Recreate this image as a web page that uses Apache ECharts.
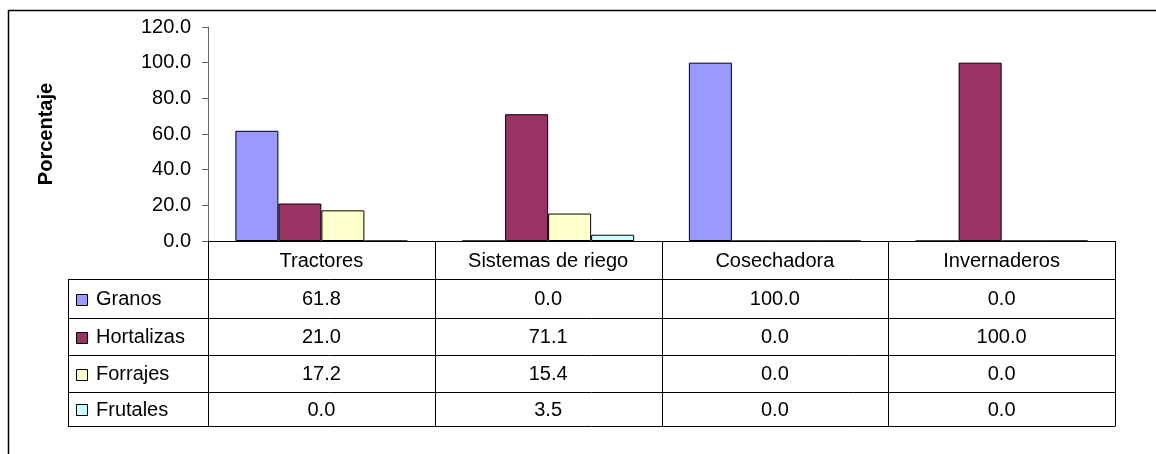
<!DOCTYPE html>
<html>
<head>
<meta charset="utf-8">
<script src="https://cdn.jsdelivr.net/npm/echarts@6/dist/echarts.min.js"></script>
<style>
  html, body { margin: 0; padding: 0; background: #fff; }
  #chart { width: 1156px; height: 454px; }
</style>
</head>
<body>
<div id="chart"></div>
<script>
var categories = ['Tractores', 'Sistemas de riego', 'Cosechadora', 'Invernaderos'];
var seriesNames = ['Granos', 'Hortalizas', 'Forrajes', 'Frutales'];
var granos = [61.8, 0.0, 100.0, 0.0];
var hortalizas = [21.0, 71.1, 0.0, 100.0];
var forrajes = [17.2, 15.4, 0.0, 0.0];
var frutales = [0.0, 3.5, 0.0, 0.0];
var colors = ['#9999FF', '#993366', '#FFFFCC', '#CCFFFF'];
var yTicks = [0, 20, 40, 60, 80, 100, 120];

var values = [granos, hortalizas, forrajes, frutales];
var FONT = '"Liberation Sans", Arial, sans-serif';
var FS = 20;

var chart = echarts.init(document.getElementById('chart'), null, { renderer: 'canvas' });

var series = seriesNames.map(function (name, i) {
  return {
    name: name,
    type: 'bar',
    data: values[i],
    barWidth: 43,
    barGap: '0%',
    itemStyle: { color: colors[i], borderColor: '#000', borderWidth: 1 },
    silent: true
  };
});

chart.setOption({
  animation: false,
  grid: { left: 208, right: 41, top: 27, bottom: 213 },
  xAxis: {
    type: 'category',
    data: categories,
    axisLine: { lineStyle: { color: '#000', width: 1 } },
    axisTick: { show: false },
    axisLabel: { show: false }
  },
  yAxis: {
    type: 'value',
    min: yTicks[0],
    max: yTicks[yTicks.length - 1],
    interval: 20,
    name: 'Porcentaje',
    nameLocation: 'middle',
    nameGap: 152,
    nameTextStyle: { fontFamily: FONT, fontSize: FS, fontWeight: 'bold', color: '#000' },
    axisLine: { show: true, lineStyle: { color: '#666' } },
    axisTick: { show: true, length: 6, lineStyle: { color: '#666' } },
    axisLabel: {
      formatter: function (v) { return v.toFixed(1); },
      fontFamily: FONT, fontSize: FS, color: '#000', margin: 17
    },
    splitLine: { show: false }
  },
  series: series
});

// data table under the plot, lined up with the category axis
var c0 = chart.convertToPixel({ xAxisIndex: 0 }, 0);
var c1 = chart.convertToPixel({ xAxisIndex: 0 }, 1);
var band = c1 - c0;
var xs = [];
for (var i = 0; i <= categories.length; i++) xs.push(c0 - band / 2 + i * band);
var y0 = chart.convertToPixel({ yAxisIndex: 0 }, 0);
var rowYs = [y0, 279, 318, 355, 392, 426];
var tableLeft = 68;

var g = [];
function line(x1, y1, x2, y2, color) {
  g.push({ type: 'line', shape: { x1: x1, y1: y1, x2: x2, y2: y2 },
    style: { stroke: color || '#000', lineWidth: 1 }, silent: true });
}
function text(x, y, s, align) {
  g.push({ type: 'text', x: x, y: y, silent: true,
    style: { text: s, fill: '#000', font: FS + 'px ' + FONT, textAlign: align || 'center', textVerticalAlign: 'middle' } });
}

// outer frame
g.push({ type: 'rect', shape: { x: 8.5, y: 10.5, width: 1160, height: 460 },
  style: { fill: null, stroke: '#000', lineWidth: 1.5 }, silent: true });

// horizontal lines
for (var r = 1; r < rowYs.length; r++) line(tableLeft, rowYs[r] + 0.5, xs[xs.length - 1], rowYs[r] + 0.5);
// vertical lines
for (var k = 0; k < xs.length; k++) line(Math.round(xs[k]) + 0.5, y0, Math.round(xs[k]) + 0.5, rowYs[5] + 0.5);
line(tableLeft + 0.5, rowYs[1], tableLeft + 0.5, rowYs[5] + 0.5);

// header row
categories.forEach(function (c, i) {
  text((xs[i] + xs[i + 1]) / 2, (rowYs[0] + rowYs[1]) / 2 + 1, c);
});
// data rows with legend keys
seriesNames.forEach(function (name, s) {
  var yc = (rowYs[s + 1] + rowYs[s + 2]) / 2 + 1;
  g.push({ type: 'rect', shape: { x: 76.5, y: Math.round(yc) - 5.5, width: 11, height: 11 },
    style: { fill: colors[s], stroke: '#000', lineWidth: 1 }, silent: true });
  text(96, yc, name, 'left');
  values[s].forEach(function (v, i) {
    text((xs[i] + xs[i + 1]) / 2, yc, v.toFixed(1));
  });
});

chart.setOption({ graphic: g });
</script>
</body>
</html>
